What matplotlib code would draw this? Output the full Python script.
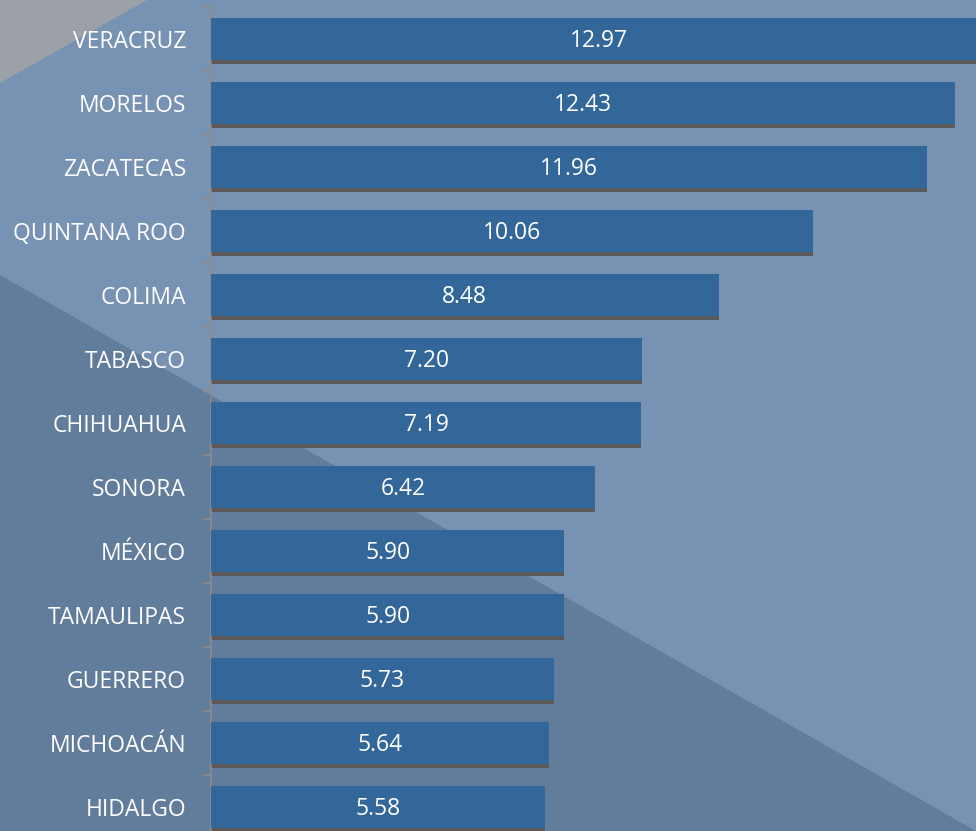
import matplotlib
matplotlib.use("Agg")
import matplotlib.pyplot as plt
from matplotlib.patches import Polygon

# data
states = ["VERACRUZ", "MORELOS", "ZACATECAS", "QUINTANA ROO", "COLIMA", "TABASCO",
          "CHIHUAHUA", "SONORA", "MÉXICO", "TAMAULIPAS", "GUERRERO", "MICHOACÁN", "HIDALGO"]
values = [12.97, 12.43, 11.96, 10.06, 8.48, 7.20, 7.19, 6.42, 5.90, 5.90, 5.73, 5.64, 5.58]

W, H = 976, 831
plt.rcParams["font.family"] = ["Open Sans", "DejaVu Sans"]

fig = plt.figure(figsize=(W / 100, H / 100), dpi=100)

# background (pixel coordinates)
bg = fig.add_axes([0, 0, 1, 1])
bg.set_xlim(0, W)
bg.set_ylim(H, 0)
bg.axis("off")
bg.add_patch(Polygon([(0, 0), (W, 0), (W, H), (0, H)], color="#7892b3", lw=0))
bg.add_patch(Polygon([(0, 0), (147, 0), (0, 83)], color="#9ca1a8", lw=0))
bg.add_patch(Polygon([(0, 275), (W, H), (0, H)], color="#627c9b", lw=0))

# chart
ax = fig.add_axes([211 / W, -8 / H, 765 / W, 832 / H])
ax.patch.set_visible(False)
y = list(range(len(states)))
h = 0.67
ax.barh([v + 0.0625 for v in y], values, height=h, color="#595959", zorder=2)
ax.barh(y, values, height=h, color="#336699", zorder=3)
for yi, v in zip(y, values):
    ax.text(v / 2, yi + 0.13, f"{v:.2f}", ha="center", va="baseline", color="white",
            fontsize=16.5, zorder=4)

ax.set_xlim(0, 12.78)
ax.set_ylim(len(states) - 0.5, -0.5)
ax.set_yticks(y)
ax.set_yticklabels(states, color="white", fontsize=16.5)
ax.set_yticks([i - 0.5 for i in range(len(states) + 1)], minor=True)
ax.tick_params(axis="y", which="major", length=0, pad=18)
ax.tick_params(axis="y", which="minor", length=6, color="#8c8c8c", width=1.2)
ax.set_xticks([])
for s in ["top", "right", "bottom"]:
    ax.spines[s].set_visible(False)
ax.spines["left"].set_color("#8c8c8c")
ax.spines["left"].set_linewidth(1.2)

fig.savefig("out.png", dpi=100)
